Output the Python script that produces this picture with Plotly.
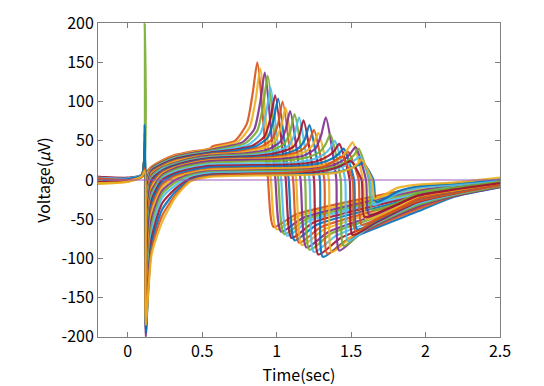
import plotly.graph_objects as go

peak_t  = [0.87,0.89,0.92,0.94,0.96,0.99,1.01,1.04,1.06,1.09,1.12,1.15,1.18,1.22,1.25,1.28,1.33,1.36,1.39,1.42,1.45,1.48,1.51,1.53,1.55,1.56,1.50,1.58,1.44,1.57]
peak_v  = [150,142,137,133,118,108,104,100,92,88,84,80,76,70,64,60,80,58,50,46,40,36,48,42,40,30,24,22,30,26]
base_a  = [-2,3,-4,1,-3,4,-1,2,-5,0,3,-2,1,-4,2,-1,3,-3,0,4,-2,1,-3,2,-1,3,-2,0,2,-4]
base_b  = [1,2,0,2,-1,3,0,1,-2,2,1,0,2,-1,1,0,2,-1,1,2,0,1,-2,1,0,2,-1,1,0,-2]
base_c  = [5,6,4,7,5,6,5,6,4,6,5,7,5,6,4,6,5,7,5,6,5,6,4,6,5,6,5,6,4,5]
spike_hi = [60,45,50,40,35,30,40,35,25,30,25,30,25,20,25,20,15,20,15,20,15,10,15,10,200,10,8,70,15,12]
spike_lo = [10,5,0,-5,-10,-15,-20,-25,-30,-35,-40,-50,-60,-70,-80,-90,-100,-110,-120,-130,-140,-150,-160,-200,-170,-180,-190,-195,-175,-185]
early_a = [17,16,15,14,13,12,11,10,8,6,4,2,0,-3,-6,-10,-14,-18,-22,-26,-30,-36,-42,-50,-58,-66,-75,-82,-88,-95]
early_b = [25,24,23,22,21,20,19,18,17,16,15,14,12,11,10,8,6,4,2,0,-3,-6,-10,-14,-18,-23,-30,-38,-46,-54]
plat_a  = [32,31,30,29,28,27,26,25,24,22,21,20,19,18,17,16,15,13,11,9,7,5,3,0,-3,-7,-11,-15,-19,-22]
plat_b  = [36,35,34,33,32,31,30,29,28,27,26,25,24,23,22,21,20,18,16,14,12,10,9,7,6,4,2,0,-1,-2]
plat_c  = [40,39,38,37,36,35,34,33,32,31,30,29,28,27,26,25,24,22,20,18,16,14,13,11,10,9,7,6,5,4]
rise_a  = [43,42,41,40,39,38,37,36,35,34,33,32,31,30,29,28,27,25,22,20,18,16,16,14,13,11,9,8,10,7]
rise_b  = [50,49,48,47,45,44,43,42,41,39,38,37,36,34,33,32,31,29,26,24,22,20,21,19,17,15,13,11,15,10]
rise_c  = [72,68,65,63,59,56,54,52,50,48,46,44,42,41,40,38,40,36,33,31,28,26,30,27,25,21,18,16,22,15]
rise_d  = [112,104,100,96,86,80,77,72,68,64,61,58,55,52,50,47,58,46,41,38,34,31,40,35,32,26,22,19,27,20]
drop_v  = [5,3,4,2,1,3,2,1,2,1,2,1,2,1,0,1,2,1,0,1,0,1,0,0,0,-1,0,0,0,0]
trough_t = [0.98,1.00,1.03,1.05,1.07,1.10,1.12,1.15,1.17,1.20,1.22,1.25,1.28,1.31,1.34,1.37,1.42,1.45,1.48,1.51,1.54,1.57,1.60,1.62,1.64,1.65,1.59,1.67,1.53,1.66]
trough_v = [-60,-63,-66,-69,-71,-74,-77,-80,-83,-86,-89,-92,-95,-98,-94,-92,-90,-84,-78,-70,-63,-57,-50,-44,-38,-32,-47,-28,-65,-24]
recov_a = [-44,-46,-48,-50,-52,-54,-57,-60,-63,-66,-68,-71,-74,-78,-74,-70,-67,-63,-59,-55,-50,-45,-40,-35,-31,-18,-37,-14,-50,-10]
recov_b = [-10,-12,-14,-16,-18,-20,-22,-24,-26,-28,-30,-32,-35,-40,-37,-34,-34,-32,-30,-28,-26,-24,-21,-19,-17,-10,-20,-8,-27,-6]
recov_c = [-5,-6,-7,-8,-9,-10,-11,-12,-13,-14,-15,-16,-17,-21,-20,-19,-20,-19,-18,-17,-16,-14,-13,-11,-10,-6,-12,-4,-17,-3]
recov_d = [-1,-2,-2,-3,-3,-4,-4,-5,-5,-6,-6,-7,-7,-9,-8,-8,-9,-8,-7,-6,-6,-5,-4,-3,-2,0,-4,1,-7,3]

# time knots of the recording
base_times = [-0.2, 0.0, 0.095]
artifact_times = [0.114, 0.121]
early_times = [0.16, 0.23, 0.32, 0.42, 0.55]
rise_offsets = [-0.30, -0.15, -0.07, -0.03, 0.0]
drop_offset = 0.07
recov_offset = 0.15
tail_times = [1.95, 2.2, 2.5]

zero_line_t = [-0.2, 2.5]
zero_line_v = [0, 0]

x_ticks = [0, 0.5, 1, 1.5, 2, 2.5]
x_tick_labels = ["0", "0.5", "1", "1.5", "2", "2.5"]
y_ticks = [-200, -150, -100, -50, 0, 50, 100, 150, 200]
y_tick_labels = ["-200", "-150", "-100", "-50", "0", "50", "100", "150", "200"]

colors = ["#D95319", "#EDB120", "#7E2F8E", "#77AC30", "#4DBEEE", "#A2142F", "#0072BD"]

fig = go.Figure()
for i in range(len(peak_t)):
    T = peak_t[i]
    xs = (base_times + artifact_times + early_times
          + [T + o for o in rise_offsets]
          + [T + drop_offset, trough_t[i], trough_t[i] + recov_offset]
          + tail_times)
    ys = [base_a[i], base_b[i], base_c[i], spike_hi[i], spike_lo[i],
          early_a[i], early_b[i], plat_a[i], plat_b[i], plat_c[i],
          rise_a[i], rise_b[i], rise_c[i], rise_d[i], peak_v[i],
          drop_v[i], trough_v[i], recov_a[i], recov_b[i], recov_c[i], recov_d[i]]
    fig.add_trace(go.Scatter(x=xs, y=ys, mode="lines",
                             line=dict(color=colors[i % len(colors)], width=2.2,
                                       shape="spline", smoothing=0.6),
                             opacity=0.9, showlegend=False, hoverinfo="skip"))

fig.add_trace(go.Scatter(x=zero_line_t, y=zero_line_v, mode="lines",
                         line=dict(color="#9B59B6", width=1.2),
                         showlegend=False, hoverinfo="skip"))

tick_font = dict(family="Noto Sans CJK JP", size=16, color="black")
axis_common = dict(showline=True, mirror="allticks", linecolor="#808080", linewidth=1,
                   ticks="inside", ticklen=5, tickcolor="#808080", showgrid=False,
                   zeroline=False, tickfont=tick_font, ticklabeloverflow="allow")

fig.update_layout(
    width=544, height=386,
    margin=dict(l=98, r=44, t=10, b=47),
    paper_bgcolor="white", plot_bgcolor="white",
    xaxis=dict(range=[-0.2, 2.5], tickvals=x_ticks, ticktext=x_tick_labels,
               title=dict(text="Time(sec)", standoff=3, font=tick_font),
               **axis_common),
    yaxis=dict(range=[-200.3, 200.3], tickvals=y_ticks, ticktext=y_tick_labels,
               title=dict(text="Voltage(<i>μ</i>V)", standoff=6, font=tick_font),
               **axis_common),
)

fig.write_html("out.html", config={"displayModeBar": False},
               post_script="document.body.style.margin='0px';")
